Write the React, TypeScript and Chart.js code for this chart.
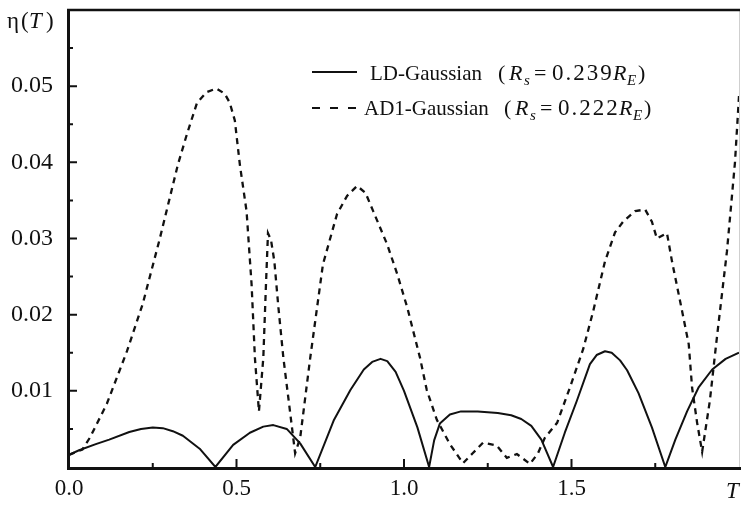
import { useEffect, useRef } from 'react';
import { Chart, registerables } from 'chart.js';

Chart.register(...registerables);

const SERIF = '"Liberation Serif", "Times New Roman", serif';
const INK = '#111';

// Axis ticks
const xTickValues = [0, 0.5, 1.0, 1.5, 2.0];
const xTickLabels = ['0.0', '0.5', '1.0', '1.5', ''];
const yTickValues = [0.01, 0.02, 0.03, 0.04, 0.05];
const yTickLabels = ['0.01', '0.02', '0.03', '0.04', '0.05'];

// Legend text
const seriesNames = ['LD-Gaussian', 'AD1-Gaussian'];
const sourceRadii = ['0.239', '0.222'];

// LD-Gaussian: η(T)
const ldT = [
  0, 0.03, 0.08, 0.12, 0.18, 0.215, 0.25, 0.28, 0.31, 0.34, 0.39, 0.437,
  0.49, 0.54, 0.58, 0.61, 0.65, 0.69, 0.735,
  0.79, 0.84, 0.88, 0.905, 0.93, 0.95, 0.975, 1.0, 1.04, 1.075,
  1.09, 1.107, 1.137, 1.17, 1.22, 1.28, 1.32, 1.35, 1.38, 1.41, 1.445,
  1.48, 1.516, 1.555, 1.575, 1.6, 1.62, 1.645, 1.666, 1.7, 1.74, 1.78,
  1.81, 1.845, 1.88, 1.92, 1.96, 2.0,
];
const ldEta = [
  0.0016, 0.0022, 0.003, 0.0036, 0.0046, 0.005, 0.0052, 0.0051, 0.0047, 0.0041, 0.0024, 0,
  0.0029, 0.0045, 0.0053, 0.0055, 0.005, 0.0031, 0,
  0.0061, 0.0101, 0.0128, 0.0138, 0.0142, 0.0139, 0.0125, 0.01, 0.0052, 0,
  0.0035, 0.0057, 0.0069, 0.0073, 0.0073, 0.0071, 0.0068, 0.0063, 0.0054, 0.0036, 0,
  0.0045, 0.0087, 0.0135, 0.0147, 0.0152, 0.015, 0.014, 0.0127, 0.0097, 0.0052, 0,
  0.0036, 0.0073, 0.0105, 0.0128, 0.0142, 0.015,
];

// AD1-Gaussian: η(T)
const adT = [
  0, 0.04, 0.063, 0.113, 0.173, 0.22, 0.27, 0.325, 0.352, 0.382, 0.41, 0.44,
  0.465, 0.48, 0.495, 0.51, 0.53, 0.545, 0.555, 0.567, 0.58, 0.588, 0.594,
  0.603, 0.613, 0.625, 0.64, 0.66, 0.675, 0.69, 0.72, 0.758, 0.8, 0.83, 0.86,
  0.885, 0.908, 0.95, 0.98, 1.01, 1.048, 1.068, 1.098, 1.137, 1.176, 1.205,
  1.236, 1.277, 1.307, 1.337, 1.376, 1.4, 1.42, 1.457, 1.495, 1.535, 1.565,
  1.6, 1.63, 1.654, 1.69, 1.72, 1.74, 1.755, 1.785, 1.8, 1.83, 1.85, 1.86,
  1.875, 1.89, 1.913, 1.934, 1.964, 1.988, 2.0,
];
const adEta = [
  0.0016, 0.0023, 0.0039, 0.0083, 0.0152, 0.0214, 0.0298, 0.0397, 0.0437, 0.0478, 0.0492, 0.0497,
  0.049, 0.0478, 0.0455, 0.0397, 0.0336, 0.024, 0.0143, 0.0073, 0.0143, 0.024, 0.0307,
  0.0298, 0.027, 0.021, 0.0143, 0.0072, 0.0018, 0.0038, 0.0143, 0.0266, 0.0332, 0.0356, 0.0369,
  0.036, 0.0336, 0.0292, 0.0253, 0.0209, 0.0143, 0.0101, 0.0062, 0.003, 0.0005, 0.0018,
  0.0032, 0.0028, 0.0012, 0.0017, 0.0004, 0.0018, 0.0038, 0.0058, 0.0104, 0.0155, 0.0205,
  0.027, 0.0308, 0.0322, 0.0336, 0.0338, 0.0322, 0.03, 0.0307, 0.027, 0.0205, 0.0161, 0.0104,
  0.0058, 0.002, 0.0087, 0.017, 0.0283, 0.04, 0.0487,
];

const toPoints = (xs: number[], ys: number[]) => xs.map((x, i) => ({ x, y: ys[i] }));

const labelFor = (values: number[], labels: string[], v: number) => {
  const i = values.findIndex((t) => Math.abs(t - v) < 1e-9);
  return i >= 0 ? labels[i] : '';
};

const font = (size: number, italic = false) => `${italic ? 'italic ' : ''}${size}px ${SERIF}`;

// Draw a run of text pieces at fixed x positions on a shared baseline
type Piece = { t: string; x: number; italic?: boolean; sub?: boolean; spacing?: number; size?: number };
function drawPieces(ctx: CanvasRenderingContext2D, pieces: Piece[], baseline: number, size: number) {
  for (const p of pieces) {
    ctx.save();
    const base = p.size ?? size;
    const s = p.sub ? Math.round(base * 0.68) : base;
    ctx.font = font(s, p.italic);
    (ctx as any).letterSpacing = `${p.spacing ?? 0}px`;
    ctx.fillText(p.t, p.x, baseline + (p.sub ? 5 : 0));
    ctx.restore();
  }
}

const frameAndText = {
  id: 'frameAndText',
  afterDraw(chart: Chart) {
    const { ctx, chartArea: a } = chart;
    const xs = chart.scales.x;
    const ys = chart.scales.y;
    ctx.save();
    ctx.fillStyle = INK;
    ctx.lineCap = 'butt';

    // right edge (faint)
    ctx.strokeStyle = '#cfcfcf';
    ctx.lineWidth = 1;
    ctx.beginPath();
    ctx.moveTo(a.right + 0.5, a.top);
    ctx.lineTo(a.right + 0.5, a.bottom);
    ctx.stroke();

    ctx.strokeStyle = INK;
    // top border
    ctx.lineWidth = 2.5;
    ctx.beginPath();
    ctx.moveTo(a.left - 2, a.top);
    ctx.lineTo(a.right + 1, a.top);
    ctx.stroke();

    // left and bottom axes
    ctx.lineWidth = 3;
    ctx.beginPath();
    ctx.moveTo(a.left - 0.5, a.top - 1);
    ctx.lineTo(a.left - 0.5, a.bottom + 3);
    ctx.moveTo(a.left - 2, a.bottom + 1.5);
    ctx.lineTo(a.right + 2, a.bottom + 1.5);
    ctx.stroke();

    // inward ticks
    ctx.lineWidth = 2;
    ctx.beginPath();
    for (let k = 1; k <= 11; k++) {
      const y = ys.getPixelForValue(k * 0.005);
      const len = k % 2 === 0 ? 8 : 4;
      ctx.moveTo(a.left, y);
      ctx.lineTo(a.left + len, y);
    }
    for (let k = 1; k <= 7; k++) {
      const x = xs.getPixelForValue(k * 0.25);
      const len = k % 2 === 0 ? 8 : 4;
      ctx.moveTo(x, a.bottom);
      ctx.lineTo(x, a.bottom - len);
    }
    ctx.stroke();

    // axis titles
    ctx.textBaseline = 'alphabetic';
    ctx.textAlign = 'left';
    drawPieces(ctx, [
      { t: 'η', x: 7 },
      { t: '(', x: 21 },
      { t: 'T', x: 29, italic: true },
      { t: ')', x: 46 },
    ], 28, 23);
    drawPieces(ctx, [{ t: 'T', x: 726, italic: true }], 498, 23);

    // legend
    const rows = [
      { line: 72, base: 80, dash: [] as number[], nameX: 370, shift: 0 },
      { line: 108, base: 115, dash: [8, 10], nameX: 364, shift: 6 },
    ];
    rows.forEach((r, i) => {
      ctx.save();
      ctx.lineWidth = 2.2;
      ctx.setLineDash(r.dash);
      ctx.beginPath();
      ctx.moveTo(312, r.line);
      ctx.lineTo(357, r.line);
      ctx.stroke();
      ctx.restore();
      const s = r.shift;
      drawPieces(ctx, [
        { t: seriesNames[i], x: r.nameX },
        { t: '(', x: 498 + s, size: 22 },
        { t: 'R', x: 509 + s, italic: true, size: 22 },
        { t: 's', x: 524 + s, italic: true, sub: true, size: 22 },
        { t: '=', x: 534 + s, size: 22 },
        { t: sourceRadii[i], x: 552 + s, spacing: 2, size: 23 },
        { t: 'R', x: 613 + s, italic: true, size: 22 },
        { t: 'E', x: 627 + s, italic: true, sub: true, size: 22 },
        { t: ')', x: 638 + s, size: 22 },
      ], r.base, 21);
    });
    ctx.restore();
  },
};

export default function App() {
  const canvasRef = useRef<HTMLCanvasElement | null>(null);

  useEffect(() => {
    const canvas = canvasRef.current;
    if (!canvas) return;
    const chart = new Chart(canvas, {
      type: 'line',
      data: {
        datasets: [
          {
            label: seriesNames[0],
            data: toPoints(ldT, ldEta),
            borderColor: INK,
            borderWidth: 2,
            pointRadius: 0,
            tension: 0,
            fill: false,
            borderJoinStyle: 'round',
          },
          {
            label: seriesNames[1],
            data: toPoints(adT, adEta),
            borderColor: INK,
            borderWidth: 2.3,
            borderDash: [6, 5],
            pointRadius: 0,
            tension: 0,
            fill: false,
          },
        ],
      },
      options: {
        animation: false,
        responsive: false,
        maintainAspectRatio: false,
        parsing: false,
        layout: { padding: { top: 10, right: 2, left: 0, bottom: 0 } },
        plugins: { legend: { display: false }, tooltip: { enabled: false } },
        scales: {
          x: {
            type: 'linear',
            min: 0,
            max: 2,
            grid: { display: false, drawTicks: false },
            border: { display: false },
            ticks: {
              stepSize: 0.5,
              autoSkip: false,
              maxRotation: 0,
              padding: 8,
              color: INK,
              font: { family: SERIF, size: 23 },
              callback: (v: any) => labelFor(xTickValues, xTickLabels, Number(v)),
            },
            afterFit: (s: any) => {
              s.height = 39;
              s.paddingLeft = 0;
              s.paddingRight = 0;
            },
          },
          y: {
            type: 'linear',
            min: 0,
            max: 0.06,
            grid: { display: false, drawTicks: false },
            border: { display: false },
            ticks: {
              stepSize: 0.01,
              autoSkip: false,
              padding: 16,
              color: INK,
              font: { family: SERIF, size: 24 },
              callback: (v: any) => labelFor(yTickValues, yTickLabels, Number(v)),
            },
            afterFit: (s: any) => {
              s.width = 69;
              s.paddingTop = 0;
              s.paddingBottom = 0;
            },
          },
        },
      },
      plugins: [frameAndText],
    });
    return () => chart.destroy();
  }, []);

  return (
    <div style={{ position: 'fixed', left: 0, top: 0, width: 741, height: 506, background: '#fff' }}>
      <canvas ref={canvasRef} width={741} height={506} style={{ display: 'block' }} />
    </div>
  );
}
